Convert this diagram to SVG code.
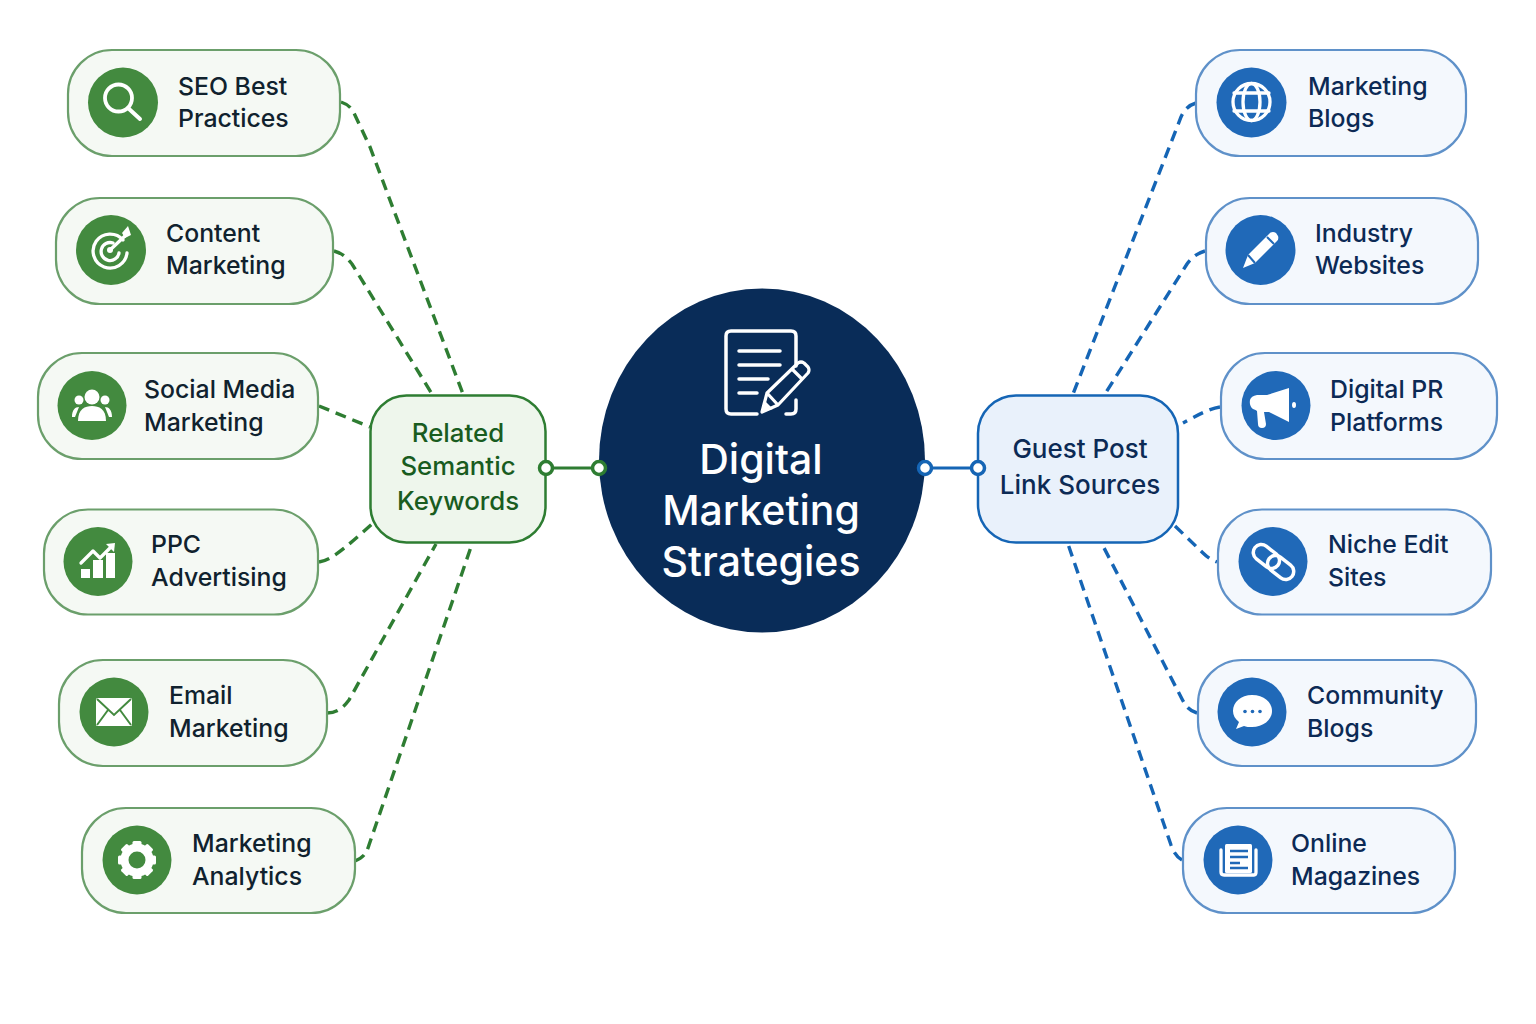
<svg xmlns="http://www.w3.org/2000/svg" width="1536" height="1024" viewBox="0 0 1536 1024">
<style>
text{font-family:"Inter","Noto Sans","Liberation Sans",sans-serif;font-weight:500}
.g{fill:#f5f9f4;stroke:#6b9f6b;stroke-width:2.2}
.b{fill:#f4f8fd;stroke:#5f91c9;stroke-width:2.2}
.gc{fill:#438a3f}.bc{fill:#2069b8}
.lbl{font-size:24.800px}
.gt{fill:#10222e}.bt{fill:#0c2a55}
.dg{fill:none;stroke:#2e7d32;stroke-width:3.400;stroke-dasharray:11 7}
.db{fill:none;stroke:#1565b5;stroke-width:3.400;stroke-dasharray:11 7}
.i{fill:none;stroke:#fff;stroke-width:3.300;stroke-linecap:round;stroke-linejoin:round}
.f{fill:#fff}
</style>
<rect width="1536" height="1024" fill="#fff"/>
<g id="connectors">
<path class="dg" d="M341 102C347 104 351 107 354 113L370 147L463 394"/>
<path class="dg" d="M334 251C342 253 346 257 352 264L432 394"/>
<path class="dg" d="M319 406L370 427"/>
<path class="dg" d="M319 562C330 560 340 553 373 523"/>
<path class="dg" d="M327 713C337 713 343 708 349 700L436 544"/>
<path class="dg" d="M355 861C362 858 366 855 369 845L472 544"/>
<path class="db" d="M1196 103C1189 105 1184 110 1181 117L1073 394"/>
<path class="db" d="M1205 251C1198 253 1192 257 1187 264L1105 394"/>
<path class="db" d="M1220 407C1208 409 1196 416 1183 423"/>
<path class="db" d="M1175 526L1203 553C1208 558 1212 560 1217 562"/>
<path class="db" d="M1197 713C1190 711 1186 707 1182 699L1102 544"/>
<path class="db" d="M1182 860C1177 857 1174 853 1171 845L1068 544"/>
<path fill="none" stroke="#2e7d32" stroke-width="3" d="M546 468H599"/>
<path fill="none" stroke="#1565b5" stroke-width="3" d="M925 468H978"/>
</g>
<g id="center">
<ellipse cx="762" cy="460.500" rx="163" ry="172" fill="#092c58"/>
<path d="M796 366V336Q796 331 791 331H731Q726 331 726 336V409Q726 414 731 414H757M786 414H791Q796 414 796 409V400" fill="none" stroke="#fff" stroke-width="3.500" stroke-linecap="round" stroke-linejoin="round"/>
<path d="M739 351H780M739 365H780M739 379H768M739 393H757" fill="none" stroke="#fff" stroke-width="3.500" stroke-linecap="round"/>
<path d="M762 412L767 393L798 363Q801 361 804 363L808 367Q810 370 808 373L778 405ZM767 393L778 405M792 369L803 380" fill="none" stroke="#fff" stroke-width="3.200" stroke-linejoin="round"/>
<path d="M762 412L765 401L773 409Z" fill="#fff"/>
<g fill="#fff" font-size="41" text-anchor="middle" style="font-weight:600">
<text x="761" y="474">Digital</text>
<text x="761" y="525">Marketing</text>
<text x="761" y="576">Strategies</text>
</g>
<circle cx="599" cy="468" r="6.500" fill="#fff" stroke="#2e7d32" stroke-width="3.500"/>
<circle cx="925" cy="468" r="6.500" fill="#fff" stroke="#1565b5" stroke-width="3.500"/>
</g>
<g id="related">
<rect x="370.500" y="395.500" width="175" height="147" rx="36" fill="#eef6ec" stroke="#2e7d32" stroke-width="2.500"/>
<g fill="#195c1f" font-size="25.800" text-anchor="middle">
<text x="458" y="442">Related</text>
<text x="458" y="475">Semantic</text>
<text x="458" y="510">Keywords</text>
</g>
<circle cx="546" cy="468" r="6.500" fill="#fff" stroke="#2e7d32" stroke-width="3.500"/>
</g>
<g id="guest">
<rect x="978" y="395.500" width="200" height="147" rx="38" fill="#e9f1fb" stroke="#1565b5" stroke-width="2.500"/>
<g fill="#0c2a55" font-size="26" text-anchor="middle">
<text x="1080" y="458">Guest Post</text>
<text x="1080" y="494">Link Sources</text>
</g>
<circle cx="978" cy="468" r="6.500" fill="#fff" stroke="#1565b5" stroke-width="3.500"/>
</g>
<g id="seo">
<rect class="g" x="68" y="50" width="272" height="106" rx="44"/>
<circle class="gc" cx="123" cy="102.500" r="35"/>
<circle class="i" cx="118.500" cy="98" r="13.500" style="stroke-width:3.800"/><path class="i" d="M128 108L140 119" style="stroke-width:4"/>
<text class="lbl gt" x="178" y="95">SEO Best</text><text class="lbl gt" x="178" y="127">Practices</text>
</g>
<g id="content">
<rect class="g" x="56" y="198" width="277" height="106" rx="44"/>
<circle class="gc" cx="111" cy="250" r="35"/>
<path class="i" d="M123 240A17 17 0 1 0 127 253"/><path class="i" d="M113 243A9 9 0 1 0 119 253"/><circle class="f" cx="110" cy="250" r="3"/><path class="i" d="M110 250L126 235"/><path class="f" d="M122 233L128 226L130 232L131 235L125 238Z"/>
<text class="lbl gt" x="166" y="242">Content</text><text class="lbl gt" x="166" y="274">Marketing</text>
</g>
<g id="social">
<rect class="g" x="38" y="353" width="280" height="106" rx="44"/>
<circle class="gc" cx="92" cy="405.500" r="34.500"/>
<circle class="f" cx="92" cy="397" r="7.500"/><circle class="f" cx="79" cy="400" r="4.500"/><circle class="f" cx="105" cy="400" r="4.500"/>
<path class="f" d="M78 421C78 409 85 406 92 406C99 406 106 409 106 421Z"/><path class="f" d="M72 417C72 410 75 407 79 407L75 417ZM112 417C112 410 109 407 105 407L109 417Z"/>
<text class="lbl gt" x="144" y="398">Social Media</text><text class="lbl gt" x="144" y="431">Marketing</text>
</g>
<g id="ppc">
<rect class="g" x="44" y="509.500" width="274" height="105" rx="44"/>
<circle class="gc" cx="98" cy="561.500" r="34.500"/>
<path class="f" d="M81 569H90V578H81ZM93 560H103V578H93ZM106 553H115V578H106Z"/>
<path class="i" d="M81 563L93 551L100 558L112 546"/><path class="f" d="M106 544L115 543L114 552Z"/>
<text class="lbl gt" x="151" y="553">PPC</text><text class="lbl gt" x="151" y="586">Advertising</text>
</g>
<g id="email">
<rect class="g" x="59" y="660" width="268" height="106" rx="44"/>
<circle class="gc" cx="114" cy="712" r="34.500"/>
<rect class="f" x="96" y="698" width="36" height="28" rx="1.500"/>
<path d="M97 699L114 715L131 699M97 725L108 710M131 725L120 710" fill="none" stroke="#438a3f" stroke-width="2"/>
<text class="lbl gt" x="169" y="704">Email</text><text class="lbl gt" x="169" y="737">Marketing</text>
</g>
<g id="analytics">
<rect class="g" x="82" y="808" width="273" height="105" rx="44"/>
<circle class="gc" cx="137" cy="860" r="34.500"/>
<circle cx="137" cy="860" r="12.500" fill="none" stroke="#fff" stroke-width="8"/>
<g class="f">
<rect x="132.500" y="841" width="9" height="8" rx="1.500"/>
<rect x="132.500" y="841" width="9" height="8" rx="1.500" transform="rotate(45 137 860)"/>
<rect x="132.500" y="841" width="9" height="8" rx="1.500" transform="rotate(90 137 860)"/>
<rect x="132.500" y="841" width="9" height="8" rx="1.500" transform="rotate(135 137 860)"/>
<rect x="132.500" y="841" width="9" height="8" rx="1.500" transform="rotate(180 137 860)"/>
<rect x="132.500" y="841" width="9" height="8" rx="1.500" transform="rotate(225 137 860)"/>
<rect x="132.500" y="841" width="9" height="8" rx="1.500" transform="rotate(270 137 860)"/>
<rect x="132.500" y="841" width="9" height="8" rx="1.500" transform="rotate(315 137 860)"/>
</g>
<text class="lbl gt" x="192" y="852">Marketing</text><text class="lbl gt" x="192" y="885">Analytics</text>
</g>
<g id="marketing-blogs">
<rect class="b" x="1196" y="50" width="270" height="106" rx="44"/>
<circle class="bc" cx="1251.500" cy="102.500" r="35"/>
<circle class="i" cx="1251.500" cy="102" r="18.500"/><ellipse class="i" cx="1251.500" cy="102" rx="8.500" ry="18.500"/><path class="i" d="M1234 93H1269M1234 111H1269"/>
<text class="lbl bt" x="1308" y="95">Marketing</text><text class="lbl bt" x="1308" y="127">Blogs</text>
</g>
<g id="industry">
<rect class="b" x="1206" y="198" width="272" height="106" rx="44"/>
<circle class="bc" cx="1260.500" cy="250" r="35"/>
<path class="f" d="M1243 268L1248 255L1270 233Q1273 231 1276 233L1278 236Q1279 239 1277 241L1255 263Z"/>
<path d="M1267 237L1274 244M1248 255L1255 263" stroke="#2069b8" stroke-width="2" fill="none"/>
<text class="lbl bt" x="1315" y="242">Industry</text><text class="lbl bt" x="1315" y="274">Websites</text>
</g>
<g id="digital-pr">
<rect class="b" x="1221" y="353" width="276" height="106" rx="44"/>
<circle class="bc" cx="1276" cy="405.500" r="34.500"/>
<path class="f" d="M1289 388V422L1269 412H1264L1266 424Q1266 428 1262 428Q1258 428 1258 424L1257 411Q1256 410 1253 409Q1249 406 1250 400Q1251 396 1257 395H1267Z"/>
<ellipse class="f" cx="1294" cy="405" rx="2" ry="3"/>
<text class="lbl bt" x="1330" y="398">Digital PR</text><text class="lbl bt" x="1330" y="431">Platforms</text>
</g>
<g id="niche">
<rect class="b" x="1218" y="509.500" width="273" height="105" rx="44"/>
<circle class="bc" cx="1273" cy="561.500" r="34.500"/>
<g transform="rotate(38 1273.500 562)" fill="none" stroke="#fff" stroke-width="3.500"><rect x="1250" y="554" width="29" height="16" rx="8"/><rect x="1268" y="554" width="29" height="16" rx="8"/></g>
<text class="lbl bt" x="1328" y="553">Niche Edit</text><text class="lbl bt" x="1328" y="586">Sites</text>
</g>
<g id="community">
<rect class="b" x="1198" y="660" width="278" height="106" rx="44"/>
<circle class="bc" cx="1252" cy="712" r="34.500"/>
<path class="f" d="M1252 695C1264 695 1272 702 1272 711C1272 720 1263 727 1252 727C1249 727 1246 727 1244 726L1236 729L1239 722C1235 719 1233 715 1233 711C1233 702 1241 695 1252 695Z"/>
<circle class="bc" cx="1245" cy="711.500" r="1.800"/><circle class="bc" cx="1252.500" cy="711.500" r="1.800"/><circle class="bc" cx="1260" cy="711.500" r="1.800"/>
<text class="lbl bt" x="1307" y="704">Community</text><text class="lbl bt" x="1307" y="737">Blogs</text>
</g>
<g id="online">
<rect class="b" x="1183" y="808" width="272" height="105" rx="44"/>
<circle class="bc" cx="1238" cy="860" r="34.500"/>
<path class="i" d="M1221 850V872Q1221 875 1224 875H1254Q1256 875 1256 872V850"/>
<rect class="f" x="1225" y="844" width="27" height="29" rx="1.500"/>
<path d="M1230 851H1248M1230 857H1248M1230 863H1240M1230 868H1248" stroke="#2069b8" stroke-width="2.500"/>
<text class="lbl bt" x="1291" y="852">Online</text><text class="lbl bt" x="1291" y="885">Magazines</text>
</g>
</svg>
